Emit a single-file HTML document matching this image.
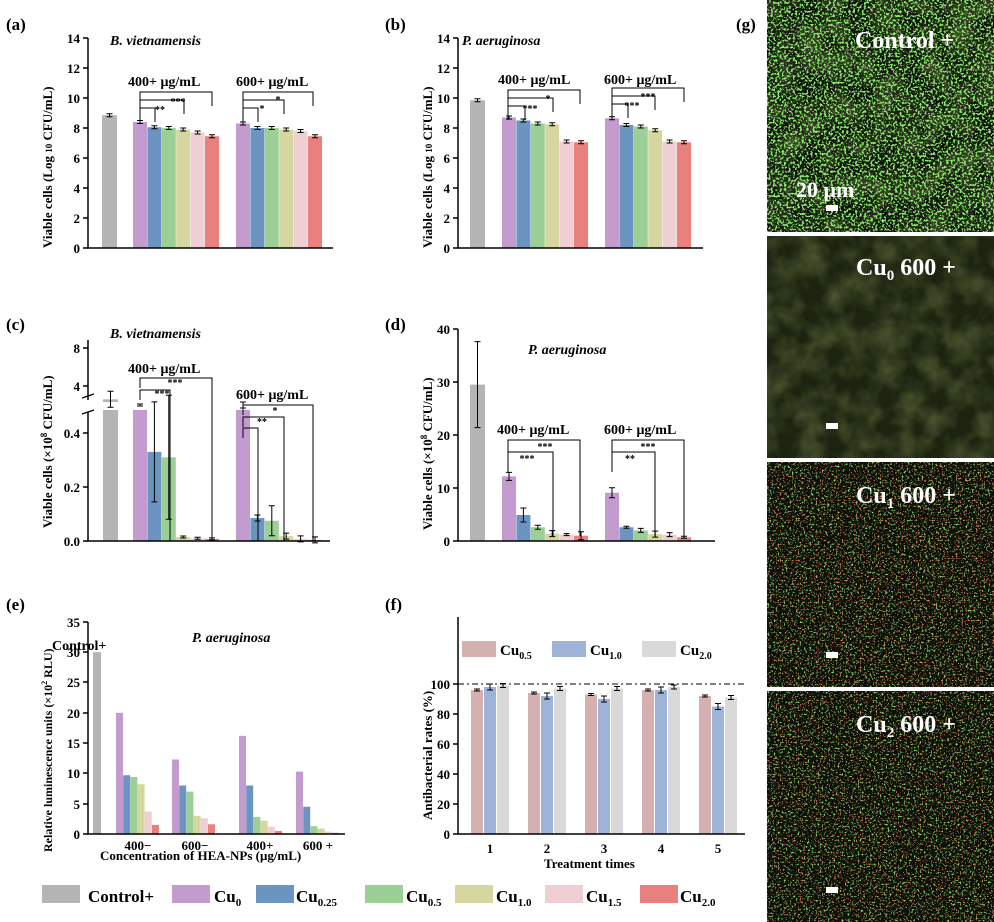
<!DOCTYPE html>
<html><head><meta charset="utf-8">
<style>
body{margin:0;background:#fff;}
svg{display:block;font-family:"Liberation Serif",serif;}
.t{font-weight:bold;}
</style></head><body>
<svg id="s" width="994" height="922" viewBox="0 0 994 922" xmlns="http://www.w3.org/2000/svg">
<defs>
<filter id="gD" x="0" y="0" width="100%" height="100%"><feTurbulence type="fractalNoise" baseFrequency="0.45" numOctaves="2" seed="3"/><feColorMatrix values="0 0 0 0 0.25  0 0 0 0 0.85  0 0 0 0 0.15  0 0 0 9 -4.6"/></filter>
<filter id="gS" x="0" y="0" width="100%" height="100%"><feTurbulence type="fractalNoise" baseFrequency="0.5" numOctaves="2" seed="11"/><feColorMatrix values="0 0 0 0 0.2  0 0 0 0 0.7  0 0 0 0 0.15  0 0 0 12 -7.6"/></filter>
<filter id="rS" x="0" y="0" width="100%" height="100%"><feTurbulence type="fractalNoise" baseFrequency="0.55" numOctaves="2" seed="21"/><feColorMatrix values="0 0 0 0 0.7  0 0 0 0 0.2  0 0 0 0 0.1  0 0 0 12 -7.4"/></filter>
<filter id="bg" x="0" y="0" width="100%" height="100%"><feTurbulence type="fractalNoise" baseFrequency="0.04" numOctaves="3" seed="5"/><feColorMatrix values="0 0 0 0 0.2  0 0 0 0 0.25  0 0 0 0 0.08  0 0 0 0.9 -0.3"/></filter>
</defs>
<g id="bars"></g>
<g stroke="#000" stroke-width="1.5" fill="none" id="axes"></g>
<g class="t" font-size="17">
<text x="6" y="30">(a)</text><text x="385" y="30">(b)</text><text x="6" y="330">(c)</text><text x="385" y="330">(d)</text><text x="6" y="610">(e)</text><text x="385" y="610">(f)</text><text x="736" y="30">(g)</text>
</g>
<g class="t" font-size="14" font-style="italic">
<text x="110" y="45">B. vietnamensis</text><text x="462" y="45">P. aeruginosa</text>
<text x="110" y="338">B. vietnamensis</text><text x="528" y="354">P. aeruginosa</text>
<text x="192" y="642">P. aeruginosa</text>
</g>
<g class="t" font-size="14">
<text x="128" y="86">400+ μg/mL</text><text x="236" y="86">600+ μg/mL</text>
<text x="498" y="84">400+ μg/mL</text><text x="604" y="84">600+ μg/mL</text>
<text x="128" y="373">400+ μg/mL</text><text x="236" y="399">600+ μg/mL</text>
<text x="497" y="434">400+ μg/mL</text><text x="604" y="434">600+ μg/mL</text>
<text x="52" y="650">Control+</text>
</g>
<g class="t" font-size="13">
<text transform="translate(52,248) rotate(-90)">Viable cells (Log <tspan font-size="9">10</tspan> CFU/mL)</text>
<text transform="translate(432,248) rotate(-90)">Viable cells (Log <tspan font-size="9">10</tspan> CFU/mL)</text>
<text transform="translate(52,528) rotate(-90)">Viable cells (×10<tspan font-size="9" dy="-5">8</tspan><tspan dy="5"> CFU/mL)</tspan></text>
<text transform="translate(432,530) rotate(-90)">Viable cells (×10<tspan font-size="9" dy="-5">8</tspan><tspan dy="5"> CFU/mL)</tspan></text>
<text transform="translate(52,852) rotate(-90)" font-size="12">Relative luminescence units (×10<tspan font-size="8" dy="-5">2</tspan><tspan dy="5"> RLU)</tspan></text>
<text transform="translate(432,820) rotate(-90)">Antibacterial rates (%)</text>
<text x="100" y="860">Concentration of HEA-NPs (μg/mL)</text>
<text x="544" y="868">Treatment times</text>
</g>
<g class="t" font-size="13" text-anchor="end" id="ticks">
<text x="80" y="253">0</text><text x="80" y="223">2</text><text x="80" y="193">4</text><text x="80" y="163">6</text><text x="80" y="133">8</text><text x="80" y="103">10</text><text x="80" y="73">12</text><text x="80" y="43">14</text>
<text x="450" y="253">0</text><text x="450" y="223">2</text><text x="450" y="193">4</text><text x="450" y="163">6</text><text x="450" y="133">8</text><text x="450" y="103">10</text><text x="450" y="73">12</text><text x="450" y="43">14</text>
<text x="80" y="546">0.0</text><text x="80" y="492">0.2</text><text x="80" y="438">0.4</text><text x="80" y="391">4</text><text x="80" y="353">8</text>
<text x="450" y="546">0</text><text x="450" y="493">10</text><text x="450" y="440">20</text><text x="450" y="387">30</text><text x="450" y="334">40</text>
<text x="80" y="839">0</text><text x="80" y="809">5</text><text x="80" y="778">10</text><text x="80" y="748">15</text><text x="80" y="718">20</text><text x="80" y="687">25</text><text x="80" y="657">30</text><text x="80" y="627">35</text>
<text x="450" y="839">0</text><text x="450" y="809">20</text><text x="450" y="779">40</text><text x="450" y="749">60</text><text x="450" y="719">80</text><text x="450" y="689">100</text>
</g>
<g class="t" font-size="13" text-anchor="middle">
<text x="138" y="850">400−</text><text x="195" y="850">600−</text><text x="260" y="850">400+</text><text x="318" y="850">600 +</text>
<text x="490" y="853">1</text><text x="547" y="853">2</text><text x="604" y="853">3</text><text x="661" y="853">4</text><text x="718" y="853">5</text>
</g>
<g class="t" font-size="15">
<text x="500" y="655">Cu<tspan font-size="10" dy="4">0.5</tspan></text>
<text x="590" y="655">Cu<tspan font-size="10" dy="4">1.0</tspan></text>
<text x="680" y="655">Cu<tspan font-size="10" dy="4">2.0</tspan></text>
</g>
<g class="t" font-size="17">
<text x="88" y="902">Control+</text>
<text x="214" y="902">Cu<tspan font-size="11" dy="4">0</tspan></text>
<text x="296" y="902">Cu<tspan font-size="11" dy="4">0.25</tspan></text>
<text x="406" y="902">Cu<tspan font-size="11" dy="4">0.5</tspan></text>
<text x="496" y="902">Cu<tspan font-size="11" dy="4">1.0</tspan></text>
<text x="586" y="902">Cu<tspan font-size="11" dy="4">1.5</tspan></text>
<text x="680" y="902">Cu<tspan font-size="11" dy="4">2.0</tspan></text>
</g>
<g class="t" font-size="10" text-anchor="middle">
<text x="178" y="105">***</text><text x="160" y="113">**</text>
<text x="278" y="103">*</text><text x="262" y="112">*</text>
<text x="548" y="102">*</text><text x="530" y="112">***</text>
<text x="648" y="100">***</text><text x="632" y="109">***</text>
<text x="175" y="386">***</text><text x="162" y="397">***</text>
<text x="275" y="414">*</text><text x="262" y="425">**</text>
<text x="545" y="450">***</text><text x="527" y="462">***</text>
<text x="648" y="450">***</text><text x="630" y="462">**</text>
</g>
<g id="img"></g>
<g class="t" font-size="24" fill="#fff">
<text x="855" y="48">Control +</text>
<text x="796" y="197" font-size="22">20 μm</text>
<text x="856" y="275">Cu<tspan font-size="15" dy="5">0</tspan><tspan dy="-5"> 600 +</tspan></text>
<text x="856" y="503">Cu<tspan font-size="15" dy="5">1</tspan><tspan dy="-5"> 600 +</tspan></text>
<text x="856" y="732">Cu<tspan font-size="15" dy="5">2</tspan><tspan dy="-5"> 600 +</tspan></text>
</g>
<script>
(function(){
const NS="http://www.w3.org/2000/svg";
const B=document.getElementById('bars'),A=document.getElementById('axes'),I=document.getElementById('img');
function el(p,t,a){const e=document.createElementNS(NS,t);for(const k in a)e.setAttribute(k,a[k]);p.appendChild(e);return e;}
const C=['#c49bcf','#6b94c0','#9ccf96','#d6d6a0','#f0cfd4','#e8807e'],G='#b4b4b4';
function bar(x,w,y0,y,c,err){el(B,'rect',{x:x,y:Math.min(y,y0),width:w,height:Math.abs(y0-y),fill:c});
 if(err){el(A,'path',{d:'M'+(x+w/2)+' '+(y-err)+'V'+(y+err)+'M'+(x+w/2-3)+' '+(y-err)+'h6M'+(x+w/2-3)+' '+(y+err)+'h6','stroke-width':1});}}
function axis(x,yt,yb,xr,ticks){el(A,'path',{d:'M'+x+' '+yt+'V'+yb+'H'+xr});ticks.forEach(function(t){el(A,'path',{d:'M'+x+' '+t+'h-5'});});}
function panAB(ax,gx,g1,g2,gv,v1,v2){const m=function(v){return 248-v*15;};
 axis(ax,38,248,ax+245,[248,218,188,158,128,98,68,38]);
 bar(gx,15,248,m(gv),G,1.5);
 v1.forEach(function(v,i){bar(g1+i*14.4,14,248,m(v),C[i],1.5);});
 v2.forEach(function(v,i){bar(g2+i*14.4,14,248,m(v),C[i],1.5);});}
panAB(88,102,133,236,8.85,[8.4,8.05,8.0,7.9,7.7,7.45],[8.3,8.0,8.0,7.9,7.8,7.45]);
panAB(458,470,502,605,9.85,[8.7,8.5,8.3,8.25,7.1,7.05],[8.65,8.2,8.1,7.85,7.1,7.05]);
[[140,212,92],[140,184,100],[140,155,108],[243,313,92],[243,284,100],[243,258,108],
 [508,580,90],[508,553,98],[508,525,106],[612,684,88],[612,655,96],[612,628,104]].forEach(function(b){el(A,'path',{d:'M'+b[0]+' '+(b[2]+14)+'V'+b[2]+'H'+b[1]+'V'+(b[2]+14),'stroke-width':1});});
(function(){const m=function(v){return v<=0.5?541-v*270:386+(4-v)*9.5;};
 el(A,'path',{d:'M88 340V400M88 412V541H330'});el(A,'path',{d:'M82 398l12-4M82 414l12-4','stroke-width':1.2});
 [541,487,433,386,348].forEach(function(t){el(A,'path',{d:'M88 '+t+'h-5'});});
 bar(103,15,541,m(2.6),G,8);
 [2.0,.33,.31,.015,.01,.008].forEach(function(v,i){bar(133+i*14.4,14,541,m(v),C[i],i==1?50:i==2?62:1);});
 [2.0,.085,.075,.018,.008,.004].forEach(function(v,i){bar(236+i*14.4,14,541,m(v),C[i],i==2?15:3);});
 el(B,'rect',{x:100,y:402,width:120,height:8,fill:'#fff'});el(B,'rect',{x:232,y:402,width:20,height:8,fill:'#fff'});
 [[140,212,378],[140,170,390],[243,313,405],[243,284,417],[243,258,428]].forEach(function(b){el(A,'path',{d:'M'+b[0]+' '+(b[2]+10)+'V'+b[2]+'H'+b[1]+'V541','stroke-width':1});});
})();
(function(){const m=function(v){return 541-v*5.3;};
 axis(458,329,541,715,[541,488,435,382,329]);
 bar(470,15,541,m(29.5),G,43);
 [12.2,4.9,2.6,1.4,1.2,1.0].forEach(function(v,i){bar(502+i*14.4,14,541,m(v),C[i],[4,7,2,3,1,4][i]);});
 [9.1,2.6,2.0,1.3,1.2,0.7].forEach(function(v,i){bar(605+i*14.4,14,541,m(v),C[i],[5,1,2,3,2,1][i]);});
 [[508,580,440],[508,553,452],[612,684,440],[612,655,452]].forEach(function(b){el(A,'path',{d:'M'+b[0]+' '+(b[2]+20)+'V'+b[2]+'H'+b[1]+'V536','stroke-width':1});});
})();
(function(){const m=function(v){return 834-v*6.06;};
 axis(88,622,834,345,[834,804,773,743,713,682,652,622]);
 bar(93,8,834,m(30),G);
 [[116,[20,9.7,9.4,8.2,3.7,1.5]],[172,[12.3,8,7,3,2.6,1.6]],[239,[16.2,8,2.8,2.2,1.2,0.5]],[296,[10.3,4.5,1.3,0.9,0.4,0.2]]]
 .forEach(function(g){g[1].forEach(function(v,i){bar(g[0]+i*7.2,7,834,m(v),C[i]);});});
})();
(function(){const m=function(v){return 834-v*1.5;};const F=['#d4b0b0','#9db4d8','#d9d9d9'];
 axis(458,617,834,745,[834,804,774,744,714,684]);
 el(A,'path',{d:'M458 684H745','stroke-dasharray':'6 3 2 3','stroke-width':1});
 [[96,98,99],[94,92,97],[93,90,97],[96,96,98],[92,85,91]].forEach(function(g,j){g.forEach(function(v,i){bar(471+j*57+i*13,12,834,m(v),F[i],[1,3,2][i]);});});
 F.forEach(function(c,i){el(B,'rect',{x:462+i*90,y:641,width:34,height:16,fill:c});});
})();
[G].concat(C).forEach(function(c,i){el(B,'rect',{x:[42,172,256,365,455,545,640][i],y:885,width:38,height:18,fill:c});});
[[0,232,['bg','gD']],[236,222,['bg']],[462,225,['gS','rS']],[691,231,['rS','gS']]].forEach(function(p,i){
 el(I,'rect',{x:767,y:p[0],width:227,height:p[1],fill:i==1?'#1c2410':'#0c1008'});
 p[2].forEach(function(f){el(I,'rect',{x:767,y:p[0],width:227,height:p[1],filter:'url(#'+f+')'});});
 el(I,'rect',{x:826,y:p[0]+(i==0?205:p[1]-35),width:12,height:6,fill:'#fff'});
});
})();
</script>
</svg>
</body></html>
